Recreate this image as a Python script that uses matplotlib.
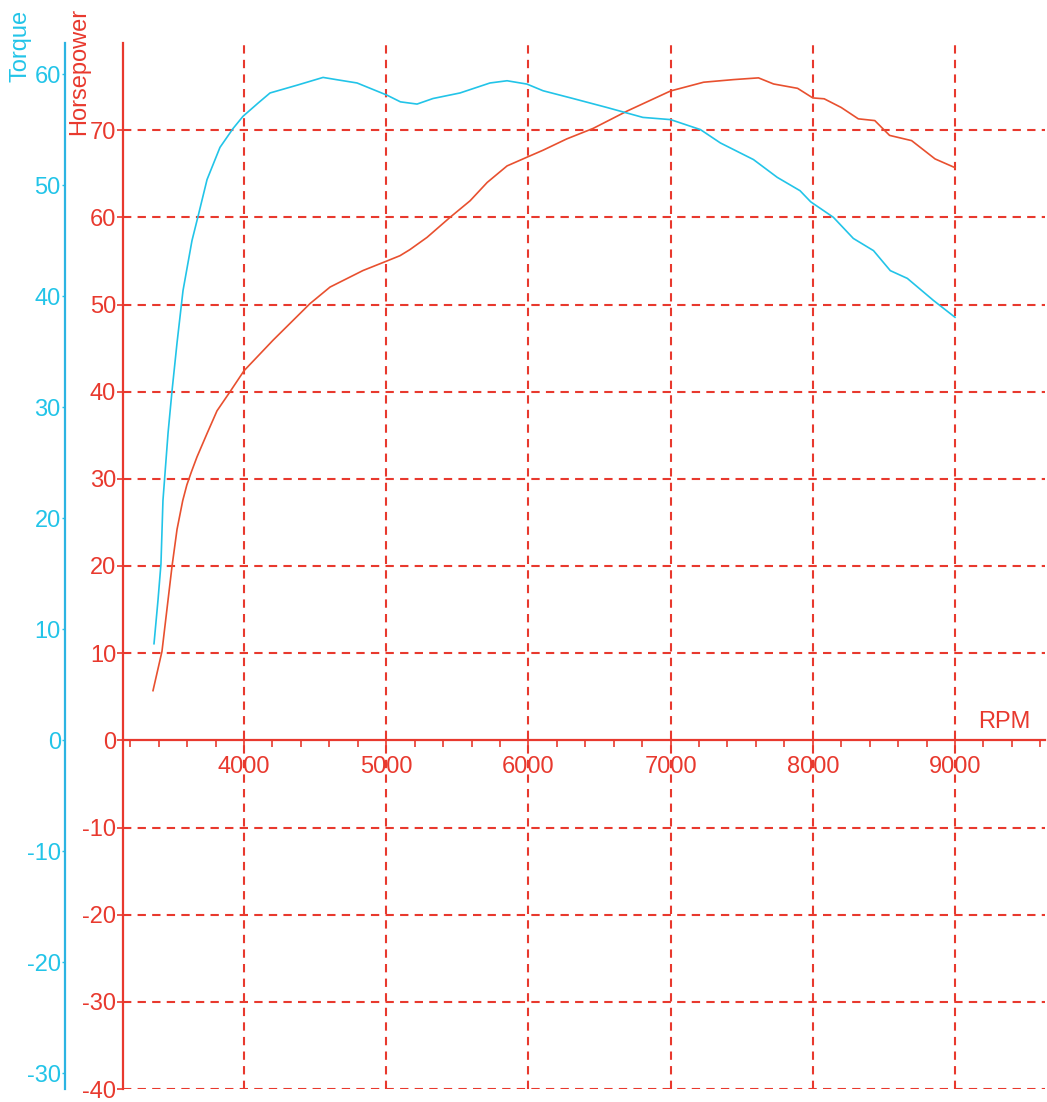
import matplotlib
matplotlib.use("Agg")
import matplotlib.pyplot as plt
from matplotlib.ticker import MultipleLocator

plt.rcParams['font.family'] = ['Liberation Sans', 'DejaVu Sans']
plt.rcParams['axes.unicode_minus'] = False

RED = '#e8392e'
HP_RED = '#e8502f'
CYAN = '#22c4e8'
CYAN_SPINE = '#2cb4e2'

# torque curve
torque_rpm = [3367, 3395, 3416, 3430, 3466, 3494, 3529, 3571, 3634, 3677,
              3740, 3831, 3923, 3993, 4100, 4183, 4373, 4556, 4650, 4795,
              5006, 5100, 5217, 5329, 5519, 5730, 5850, 5990, 6103, 6314,
              6550, 6805, 7000, 7210, 7350, 7583, 7750, 7910, 7985, 8145,
              8285, 8427, 8545, 8665, 8850, 9000]
torque = [8.7, 12.6, 15.9, 21.6, 27.7, 31.5, 35.8, 40.5, 45.0, 47.2,
          50.5, 53.4, 55.1, 56.2, 57.4, 58.3, 59.0, 59.7, 59.5, 59.2,
          58.1, 57.5, 57.3, 57.8, 58.3, 59.2, 59.4, 59.1, 58.5, 57.8,
          57.0, 56.1, 55.9, 55.0, 53.8, 52.3, 50.7, 49.5, 48.5, 47.1,
          45.2, 44.1, 42.3, 41.6, 39.6, 38.1]

# horsepower curve
hp_rpm = [3360, 3423, 3494, 3529, 3569, 3598, 3630, 3669, 3740, 3810,
          3902, 4000, 4204, 4464, 4605, 4837, 5006, 5097, 5167, 5287,
          5449, 5590, 5710, 5850, 5990, 6103, 6270, 6455, 6695, 7000,
          7232, 7442, 7618, 7724, 7893, 8000, 8080, 8200, 8320, 8436,
          8540, 8695, 8860, 9000]
hp = [5.7, 10.2, 20.0, 24.2, 27.5, 29.3, 30.8, 32.5, 35.2, 37.8,
      40.0, 42.4, 45.9, 50.1, 52.0, 53.9, 55.0, 55.6, 56.3, 57.7,
      60.0, 61.9, 64.0, 65.9, 66.9, 67.7, 69.0, 70.2, 72.2, 74.5,
      75.5, 75.8, 76.0, 75.3, 74.8, 73.7, 73.6, 72.6, 71.3, 71.1,
      69.4, 68.8, 66.7, 65.7]

rpm_ticks = [4000, 5000, 6000, 7000, 8000, 9000]
hp_ticks = list(range(-40, 80, 10))
torque_ticks = list(range(-30, 70, 10))

W, H = 1047, 1102
fig = plt.figure(figsize=(W / 100, H / 100), dpi=100)
ax = fig.add_axes([123 / W, 1 - 1089 / H, (1045 - 123) / W, (1089 - 43) / H])

ax.set_xlim(3149, 9633)
ax.set_ylim(-40, 80)

# dashed grid
for v in hp_ticks:
    if v != 0:
        ax.axhline(v, color=RED, lw=1.5, ls=(0, (4, 3)), zorder=1)
for r in rpm_ticks:
    ax.axvline(r, color=RED, lw=1.5, ls=(0, (4, 3)), zorder=1)

ax.plot(hp_rpm, hp, color=HP_RED, lw=1.2, zorder=3)

for s in ['top', 'right']:
    ax.spines[s].set_visible(False)
ax.spines['left'].set_color(RED)
ax.spines['left'].set_linewidth(1.6)
ax.spines['bottom'].set_position(('data', 0))
ax.spines['bottom'].set_color(RED)
ax.spines['bottom'].set_linewidth(1.6)

ax.set_yticks(hp_ticks)
ax.set_xticks(rpm_ticks)
ax.xaxis.set_minor_locator(MultipleLocator(200))
ax.tick_params(axis='y', colors=RED, labelsize=17, length=4, width=1.2, pad=1)
ax.tick_params(axis='x', which='major', colors=RED, labelsize=17, length=9, width=1.2, pad=2)
ax.tick_params(axis='x', which='minor', colors=RED, length=5, width=1.2)
ax.text(9350, 0.8, 'RPM', color=RED, fontsize=17, ha='center', va='bottom')

# torque on its own axis, spine pushed to the left
ax2 = ax.twinx()
ax2.set_ylim(-31.4, 62.8)
ax2.plot(torque_rpm, torque, color=CYAN, lw=1.2, zorder=3)
for s in ['top', 'right', 'bottom']:
    ax2.spines[s].set_visible(False)
ax2.spines['left'].set_visible(True)
ax2.spines['left'].set_position(('outward', 41.8))
ax2.spines['left'].set_color(CYAN_SPINE)
ax2.spines['left'].set_linewidth(1.6)
ax2.yaxis.set_ticks_position('left')
ax2.yaxis.set_label_position('left')
ax2.set_yticks(torque_ticks)
ax2.tick_params(axis='y', colors=CYAN, labelsize=17, length=2, width=1, pad=1)

fig.text(20 / W, 1 - 10 / H, 'Torque', color=CYAN, fontsize=17,
         rotation=90, ha='center', va='top')
fig.text(79 / W, 1 - 8 / H, 'Horsepower', color=RED, fontsize=17,
         rotation=90, ha='center', va='top')

fig.savefig('out.png', dpi=100, facecolor='white')
